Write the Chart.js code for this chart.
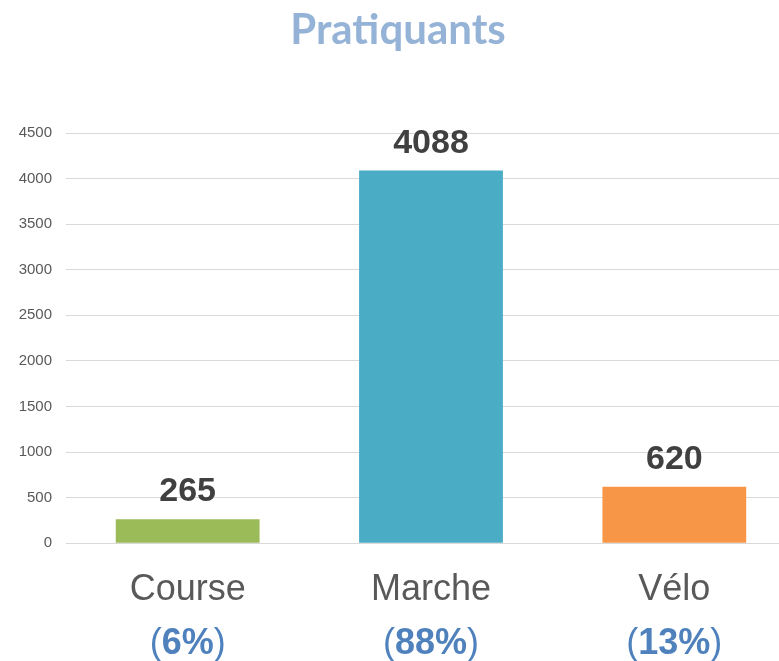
<!DOCTYPE html>
<html>
<head>
<meta charset="utf-8">
<script src="https://cdn.jsdelivr.net/npm/chart.js@4"></script>
<style>
html,body{margin:0;padding:0;background:#fff;overflow:hidden;}
#wrap{width:779px;height:661px;overflow:hidden;position:relative;}
canvas{display:block;}
</style>
</head>
<body>
<div id="wrap"><canvas id="c" width="800" height="661"></canvas></div>
<script>
const titleText = "Pratiquants";
const categories = ["Course", "Marche", "Vélo"];
const values = [265, 4088, 620];
const percents = ["6%", "88%", "13%"];
const barColors = ["#9bbb59", "#4bacc6", "#f79646"];
const yTicks = [0, 500, 1000, 1500, 2000, 2500, 3000, 3500, 4000, 4500];

const labelPlugin = {
  id: 'customLabels',
  afterDraw(chart) {
    const ctx = chart.ctx;
    const xs = chart.scales.x;
    const meta = chart.getDatasetMeta(0);
    ctx.save();
    // title
    ctx.fillStyle = '#95b3d7';
    ctx.font = 'bold 42px Lato, "Open Sans", sans-serif';
    ctx.textAlign = 'center';
    ctx.textBaseline = 'alphabetic';
    ctx.fillText(titleText, 398, 44);
    // data labels
    ctx.fillStyle = '#404040';
    ctx.font = 'bold 34px "Liberation Sans", Arial, sans-serif';
    meta.data.forEach((bar, i) => {
      ctx.fillText(String(values[i]), bar.x, bar.y - 18);
    });
    // category labels
    const fReg = '36px "Liberation Sans", Arial, sans-serif';
    const fBold = 'bold 36px "Liberation Sans", Arial, sans-serif';
    categories.forEach((cat, i) => {
      const x = xs.getPixelForValue(i);
      ctx.fillStyle = '#595959';
      ctx.font = fReg;
      ctx.textAlign = 'center';
      ctx.fillText(cat, x, 600);
      // percent line: "(" regular, number bold, ")" regular
      ctx.font = fReg; const wL = ctx.measureText('(').width; const wR = ctx.measureText(')').width;
      ctx.font = fBold; const wM = ctx.measureText(percents[i]).width;
      const total = wL + wM + wR;
      let sx = x - total / 2;
      ctx.fillStyle = '#4f81bd';
      ctx.textAlign = 'left';
      ctx.font = fReg; ctx.fillText('(', sx, 654); sx += wL;
      ctx.font = fBold; ctx.fillText(percents[i], sx, 654); sx += wM;
      ctx.font = fReg; ctx.fillText(')', sx, 654);
    });
    ctx.restore();
  }
};

new Chart(document.getElementById('c'), {
  type: 'bar',
  data: {
    labels: categories,
    datasets: [{
      data: values,
      backgroundColor: barColors,
      borderWidth: 0,
      categoryPercentage: 1.0,
      barPercentage: 0.591
    }]
  },
  options: {
    responsive: false,
    animation: false,
    layout: { padding: { top: 133, right: 4, left: 0, bottom: 0 } },
    plugins: { legend: { display: false }, title: { display: false }, tooltip: { enabled: false } },
    scales: {
      x: {
        grid: { display: false, drawTicks: false },
        border: { display: false },
        ticks: { display: false },
        afterFit(s) { s.height = 117.7; }
      },
      y: {
        min: 0, max: 4500,
        afterBuildTicks(s) { s.ticks = yTicks.map(v => ({ value: v })); },
        grid: { color: '#d9d9d9', lineWidth: 1, drawTicks: false },
        border: { display: false },
        ticks: {
          color: '#595959',
          font: { family: '"Liberation Sans", Arial, sans-serif', size: 15 },
          padding: 14,
          callback: (v) => String(v)
        },
        afterFit(s) { s.width = 66; }
      }
    }
  },
  plugins: [labelPlugin]
});
</script>
</body>
</html>
